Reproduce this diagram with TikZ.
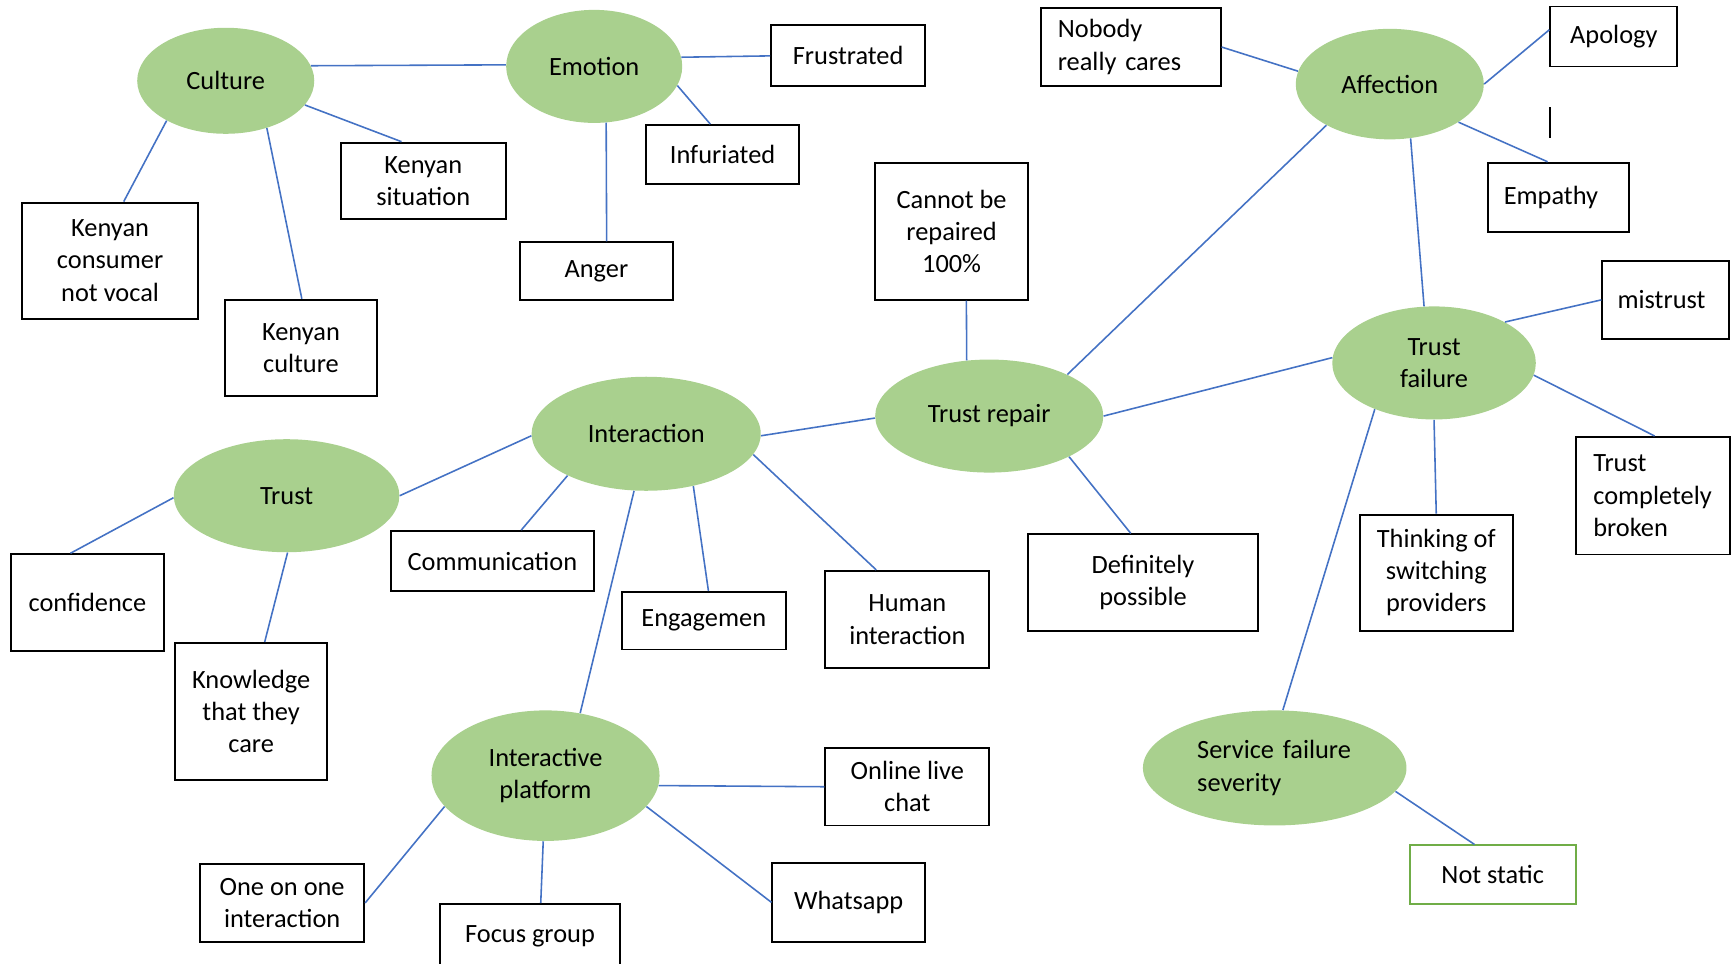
\documentclass[tikz,border=0pt]{standalone}
\usepackage{fontspec}
\setmainfont{Carlito}
\usetikzlibrary{shapes.geometric}
\definecolor{topicgreen}{RGB}{169,208,142}
\definecolor{linkblue}{RGB}{68,114,196}
\definecolor{okgreen}{RGB}{112,173,71}
\tikzset{
  topic/.style={ellipse,fill=topicgreen,inner sep=0pt,align=center,
    font=\fontsize{15pt}{18.3pt}\selectfont},
  leaf/.style={draw=black,line width=1.1pt,rectangle,inner sep=0pt,align=center,
    font=\fontsize{15pt}{18.3pt}\selectfont},
  link/.style={draw=linkblue,line width=0.9pt}
}
\begin{document}
\begin{tikzpicture}[x=0.02213cm,y=-0.02213cm]
\useasboundingbox (0,0) rectangle (1568,871);
\node[topic,minimum width=3.54cm,minimum height=2.12cm] (culture) at (204,73) {Culture};
\node[topic,minimum width=3.52cm,minimum height=2.26cm] (emotion) at (537,60) {Emotion};
\node[topic,minimum width=3.76cm,minimum height=2.21cm] (affection) at (1256,76) {Affection};
\node[topic,minimum width=4.58cm,minimum height=2.28cm] (interaction) at (584,392) {Interaction};
\node[topic,minimum width=4.51cm,minimum height=2.26cm] (trust) at (259,448) {Trust};
\node[topic,minimum width=4.56cm,minimum height=2.26cm] (repair) at (894,376) {Trust repair};
\node[topic,minimum width=4.07cm,minimum height=2.26cm] (failure) at (1296,328) {Trust\\failure};
\node[topic,minimum width=4.56cm,minimum height=2.61cm] (platform) at (493,701) {Interactive\\platform};
\node[topic,minimum width=5.27cm,minimum height=2.30cm,text width=3.10cm,align=left] (severity) at (1152,694) {Service failure\\severity};

\node[leaf,minimum width=3.08cm,minimum height=1.22cm] (frust) at (766.5,50.5) {Frustrated};
\node[leaf,minimum width=3.05cm,minimum height=1.17cm] (infur) at (653,139.5) {Infuriated};
\node[leaf,minimum width=3.05cm,minimum height=1.15cm] (anger) at (539,245) {Anger};
\node[leaf,minimum width=3.30cm,minimum height=1.53cm] (kensit) at (382.5,163.5) {Kenyan\\situation};
\node[leaf,minimum width=3.52cm,minimum height=2.32cm] (kencons) at (99.5,235.5) {Kenyan\\consumer\\not vocal};
\node[leaf,minimum width=3.05cm,minimum height=1.93cm] (kencult) at (272,314.5) {Kenyan\\culture};
\node[leaf,minimum width=3.59cm,minimum height=1.57cm,text width=2.92cm,align=left] (nobody) at (1022,42.5) {Nobody\\really cares};
\node[leaf,minimum width=2.54cm,minimum height=1.20cm] (apology) at (1458.5,33) {Apology};
\node[leaf,minimum width=2.81cm,minimum height=1.39cm,text width=2.19cm,align=left] (empathy) at (1408.5,178.5) {Empathy};
\node[leaf,minimum width=3.05cm,minimum height=2.74cm] (cannot) at (860,209) {Cannot be\\repaired\\100\%};
\node[leaf,minimum width=2.54cm,minimum height=1.55cm,text width=1.93cm,align=left] (mistrust) at (1505.5,271) {mistrust};
\node[leaf,minimum width=3.08cm,minimum height=2.35cm,text width=2.37cm,align=left] (broken) at (1493.5,448) {Trust\\completely\\broken};
\node[leaf,minimum width=3.05cm,minimum height=2.32cm] (switching) at (1298,517.5) {Thinking of\\switching\\providers};
\node[leaf,minimum width=4.60cm,minimum height=1.93cm] (possible) at (1033,526.5) {Definitely\\possible};
\node[leaf,minimum width=3.28cm,minimum height=1.95cm] (human) at (820,560) {Human\\interaction};
\node[leaf,minimum width=3.28cm,minimum height=1.15cm] (engage) at (636,561) {Engagemen};
\node[leaf,minimum width=4.07cm,minimum height=1.20cm] (commun) at (445,507) {Communication};
\node[leaf,minimum width=3.05cm,minimum height=1.93cm] (confid) at (79,544.5) {confidence};
\node[leaf,minimum width=3.05cm,minimum height=2.74cm] (knowl) at (227,643) {Knowledge\\that they\\care};
\node[leaf,minimum width=3.28cm,minimum height=1.55cm] (chat) at (820,711) {Online live\\chat};
\node[leaf,minimum width=3.05cm,minimum height=1.57cm] (whatsapp) at (767,815.5) {Whatsapp};
\node[leaf,minimum width=3.59cm,minimum height=1.28cm] (focus) at (479,846) {Focus group};
\node[leaf,minimum width=3.28cm,minimum height=1.55cm] (oneone) at (255,816) {One on one\\interaction};
\node[leaf,draw=okgreen,minimum width=3.32cm,minimum height=1.17cm] (notstatic) at (1349,790.5) {Not static};

\coordinate (tick1) at (1401,97);
\coordinate (tick2) at (1401,125);
\draw[line width=1pt] (tick1) -- (tick2);

\foreach \a/\b in {culture.10/emotion.179, culture.-17/kensit.119.5, culture.-146/kencons.77,
  culture.-49/kencult.89, emotion.6/frust.west, emotion.-13/infur.112, emotion.-78/anger.71,
  nobody.east/affection.172, affection.east/apology.174, affection.-29/empathy.107,
  affection.-147/repair.28, affection.-69/failure.100, failure.30/mistrust.180,
  failure.-7/broken.88, failure.south/switching.north, failure.-142/severity.82,
  repair.east/failure.177, repair.112/cannot.-78, repair.-27/possible.104,
  interaction.-1/repair.181, interaction.181/trust.east, interaction.-152/commun.47,
  interaction.-48/engage.81, interaction.-11/human.122, interaction.-102/platform.61,
  trust.181/confid.109, trust.-89/knowl.79, platform.-5/chat.west,
  platform.-17/whatsapp.west, platform.-92/focus.72, platform.-163/oneone.east,
  severity.-11/notstatic.121}
  \draw[link] (\a) -- (\b);
\end{tikzpicture}
\end{document}
